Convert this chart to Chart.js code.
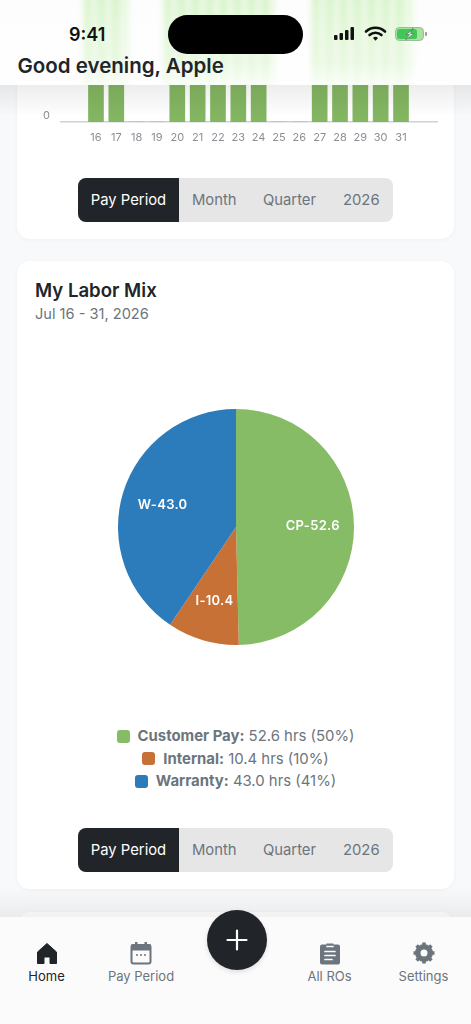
<!DOCTYPE html>
<html><head><meta charset="utf-8">
<script src="https://cdn.jsdelivr.net/npm/chart.js@4"></script>
<style>
*{box-sizing:border-box}
html,body{margin:0;padding:0}
body{width:471px;height:1024px;overflow:hidden;position:relative;background:#f8f9fa;font-family:Inter,"Noto Sans",sans-serif;color:#212529}
.abs{position:absolute}
.card{position:absolute;left:17px;width:437px;background:#fff;border-radius:13px;box-shadow:0 1px 5px rgba(0,0,0,.04)}
.seg{position:absolute;left:78px;width:315px;height:44px;background:#e6e6e6;border-radius:8px;overflow:hidden;font-size:14.8px;color:#6c757d}
.seg span{position:absolute;top:0;height:44px;line-height:44px;text-align:center;white-space:nowrap}
.seg .on{left:0;width:101px;background:#212529;color:#fff}
#head{left:0;top:0;width:471px;height:85px;background:#fdfdfd;overflow:hidden}
.ghost{position:absolute;top:-20px;height:125px;background:repeating-linear-gradient(90deg,#c4efb0 0 7px,#e6f8dc 7px 14px);filter:blur(3px);opacity:.8}
#veil{left:0;top:0;width:471px;height:85px;background:linear-gradient(#ffffff20 0,#ffffff50 30px,#ffffff70 62px,#ffffffd0 85px)}
#shade{left:0;top:85px;width:471px;height:32px;background:linear-gradient(rgba(0,0,0,.07),rgba(0,0,0,0))}
#nav{left:0;top:917px;width:471px;height:107px;background:#fbfbfb}
#navshade{left:0;top:888px;width:471px;height:29px;background:linear-gradient(rgba(0,0,0,0),rgba(0,0,0,.055))}
.nl{position:absolute;top:968px;font-size:13px;line-height:16px;text-align:center;color:#6c757d;white-space:nowrap;transform:translateX(-50%)}
#legend{left:0;top:725px;width:471px;text-align:center;font-size:14.9px;line-height:22.5px;color:#6c757d}
#legend i{display:inline-block;width:13px;height:13px;border-radius:3px;margin-right:8px;vertical-align:-1.5px}
#legend b{font-weight:700}
</style></head><body>
<div class="card" style="top:-60px;height:299px"></div>
<div class="card" style="top:261px;height:628px"></div>
<div class="card" style="top:912px;height:60px"></div>
<canvas id="bars" class="abs" width="437" height="150" style="left:17px;top:0"></canvas>
<div class="seg" style="top:178px"><span class="on">Pay Period</span><span style="left:114px">Month</span><span style="left:185px">Quarter</span><span style="left:265px">2026</span></div>
<div class="abs" style="left:35px;top:279px;font-size:18.6px;line-height:22px;font-weight:600">My Labor Mix</div>
<div class="abs" style="left:35px;top:305px;font-size:14.6px;line-height:18px;color:#6c757d">Jul 16 - 31, 2026</div>
<canvas id="pie" class="abs" width="236" height="236" style="left:117.5px;top:409px"></canvas>
<div id="legend" class="abs"></div>
<div class="seg" style="top:828px"><span class="on">Pay Period</span><span style="left:114px">Month</span><span style="left:185px">Quarter</span><span style="left:265px">2026</span></div>

<div id="shade" class="abs"></div>
<div id="head" class="abs">
 <div class="ghost" style="left:84px;width:44px"></div>
 <div class="ghost" style="left:164px;width:112px"></div>
 <div class="ghost" style="left:312px;width:100px"></div>
 <div id="veil" class="abs"></div>
</div>
<div class="abs" style="left:69px;top:24px;font-size:18px;line-height:22px;font-weight:600;color:#111">9:41</div>
<div class="abs" style="left:168px;top:15px;width:135px;height:39px;border-radius:20px;background:#000"></div>
<svg class="abs" style="left:333px;top:25px" width="96" height="20" viewBox="0 0 96 20">
 <rect x="1" y="10" width="3.5" height="5" rx="1" fill="#111"/><rect x="6.5" y="8" width="3.5" height="7" rx="1" fill="#111"/><rect x="12" y="5" width="3.5" height="10" rx="1" fill="#111"/><rect x="17.5" y="2" width="3.5" height="13" rx="1" fill="#111"/>
 <path d="M33 6.5 A14 14 0 0 1 52 6.5 M36.500 10 A9 9 0 0 1 48.500 10" fill="none" stroke="#111" stroke-width="2.6" stroke-linecap="round"/><path d="M40 13 a3.600 3.600 0 0 1 5 0 l-2.500 2.800z" fill="#111"/>
 <rect x="62.500" y="2.500" width="28" height="13" rx="4" fill="#a6e39a" stroke="#9fb79a"/><rect x="64" y="4" width="20" height="10" rx="2.500" fill="#3fc75a"/><path d="M78 6 L73 9.500 L76.500 9.500 L72.500 15 L81 8.500 L77.500 8.500 L80 3z" fill="#dff5d8" stroke="#555" stroke-width=".5"/><rect x="92" y="7" width="2" height="4" rx="1" fill="#999"/>
</svg>
<div class="abs" style="left:17.500px;top:53px;font-size:20.500px;line-height:26px;font-weight:600;color:#212529">Good evening, Apple</div>

<div id="navshade" class="abs"></div>
<div id="nav" class="abs"></div>
<div class="abs" style="left:206.500px;top:910px;width:60px;height:60px;border-radius:50%;background:#212529;box-shadow:0 2px 5px rgba(0,0,0,.12)"></div>
<svg class="abs" style="left:224.500px;top:928px" width="24" height="24"><path d="M12 2.500V21.500M2.500 12H21.500" stroke="#fff" stroke-width="2.200" stroke-linecap="round"/></svg>
<svg class="abs" style="left:35px;top:941px" width="24" height="24" viewBox="0 0 24 24"><path d="M12 2.500 L2.500 11 V22.500 H9 V16 H15 V22.500 H21.500 V11z" fill="#212529" stroke="#212529" stroke-linejoin="round"/></svg>
<svg class="abs" style="left:130px;top:941px" width="22" height="24" viewBox="0 0 22 24"><rect x="1.500" y="4" width="19" height="18.500" rx="2" fill="none" stroke="#6c757d" stroke-width="2"/><path d="M1 3.500h20v6H1z" fill="#6c757d"/><rect x="5" y="1" width="2.500" height="4" fill="#6c757d"/><rect x="14.500" y="1" width="2.500" height="4" fill="#6c757d"/><circle cx="7" cy="14" r="1" fill="#6c757d"/><circle cx="11" cy="14" r="1" fill="#6c757d"/><circle cx="15" cy="14" r="1" fill="#6c757d"/></svg>
<svg class="abs" style="left:319px;top:941px" width="22" height="24" viewBox="0 0 22 24"><path d="M3 3.500H7.500V2.500H14.500V3.500H19A2 2 0 0 1 21 5.500V21.500A2 2 0 0 1 19 23.500H3A2 2 0 0 1 1 21.500V5.500A2 2 0 0 1 3 3.500Z" fill="#6c757d"/><path d="M8 5.500H14M6 10.500H16M6 14.500H16M6 18.500H13" stroke="#fbfbfb" stroke-width="1.700" stroke-linecap="round"/></svg>
<svg class="abs" style="left:412px;top:941px" width="24" height="24" viewBox="0 0 24 24"><circle cx="12" cy="12" r="6.500" fill="none" stroke="#6c757d" stroke-width="5"/><path d="M12 1.500V22.500M1.500 12H22.500M4.600 4.600L19.400 19.400M19.400 4.600L4.600 19.400" stroke="#6c757d" stroke-width="3.600"/><circle cx="12" cy="12" r="3.500" fill="#fbfbfb"/></svg>
<div class="nl" style="left:46.500px;color:#212529">Home</div>
<div class="nl" style="left:141px">Pay Period</div>
<div class="nl" style="left:329.500px">All ROs</div>
<div class="nl" style="left:423.500px">Settings</div>

<script>
const days = [16,17,18,19,20,21,22,23,24,25,26,27,28,29,30,31];
const dayHours = [8,8,0,0,8,8,8,8,8,0,0,8,8,8,8,8];
const yTicks = [0,5,10];
const mixCodes = ["CP","I","W"];
const mixNames = ["Customer Pay","Internal","Warranty"];
const mixHours = [52.6,10.4,43.0];
const mixPct = [50,10,41];
const mixColors = ["#86bc66","#c87137","#2c7cbb"];
const FONT = 'Inter';

new Chart(document.getElementById('bars'), {
  type:'bar',
  data:{datasets:[{data:days.map((d,i)=>({x:d,y:dayHours[i]})),backgroundColor:'#84b662',barThickness:15,borderWidth:0}]},
  options:{
    responsive:false,animation:false,
    layout:{padding:{right:17,top:0,bottom:0,left:0}},
    plugins:{legend:{display:false},tooltip:{enabled:false}},
    scales:{
      x:{type:'linear',offset:false,min:14.28,max:32.77,
        afterBuildTicks:s=>{s.ticks=days.map(v=>({value:v}));},
        afterFit:s=>{s.height=28;},
        grid:{display:false,drawTicks:false,offset:false},
        border:{color:'#cfd2d4',width:1.5},
        ticks:{autoSkip:false,maxRotation:0,padding:9,color:'#8a8f94',font:{family:FONT,size:11},callback:v=>String(v)}},
      y:{min:0,max:10,
        afterBuildTicks:s=>{s.ticks=yTicks.map(v=>({value:v}));},
        afterFit:s=>{s.width=44;},
        grid:{display:false,drawTicks:false},
        border:{display:false},
        ticks:{padding:11,labelOffset:-6,color:'#8a8f94',font:{family:FONT,size:11}}}
    }
  }
});

const pieLabels = {id:'pieLabels',afterDatasetsDraw(c){
  const g=c.ctx,m=c.getDatasetMeta(0);
  g.save();g.fillStyle='#fff';g.font='600 13px '+FONT;g.textAlign='center';g.textBaseline='middle';
  if('letterSpacing' in g)g.letterSpacing='0.3px';
  m.data.forEach((a,i)=>{
    const mid=(a.startAngle+a.endAngle)/2,r=a.outerRadius*0.65;
    g.fillText(mixCodes[i]+'-'+mixHours[i].toFixed(1),a.x+Math.cos(mid)*r,a.y+Math.sin(mid)*r);
  });
  g.restore();
}};
new Chart(document.getElementById('pie'), {
  type:'pie',
  data:{labels:mixNames,datasets:[{data:mixHours,backgroundColor:mixColors,borderWidth:0}]},
  options:{responsive:false,animation:false,layout:{padding:0},plugins:{legend:{display:false},tooltip:{enabled:false}}},
  plugins:[pieLabels]
});
document.getElementById('legend').innerHTML = mixNames.map((n,i)=>
  `<div><i style="background:${mixColors[i]}"></i><b>${n}:</b> ${mixHours[i].toFixed(1)} hrs (${mixPct[i]}%)</div>`).join('');
</script>
</body></html>
